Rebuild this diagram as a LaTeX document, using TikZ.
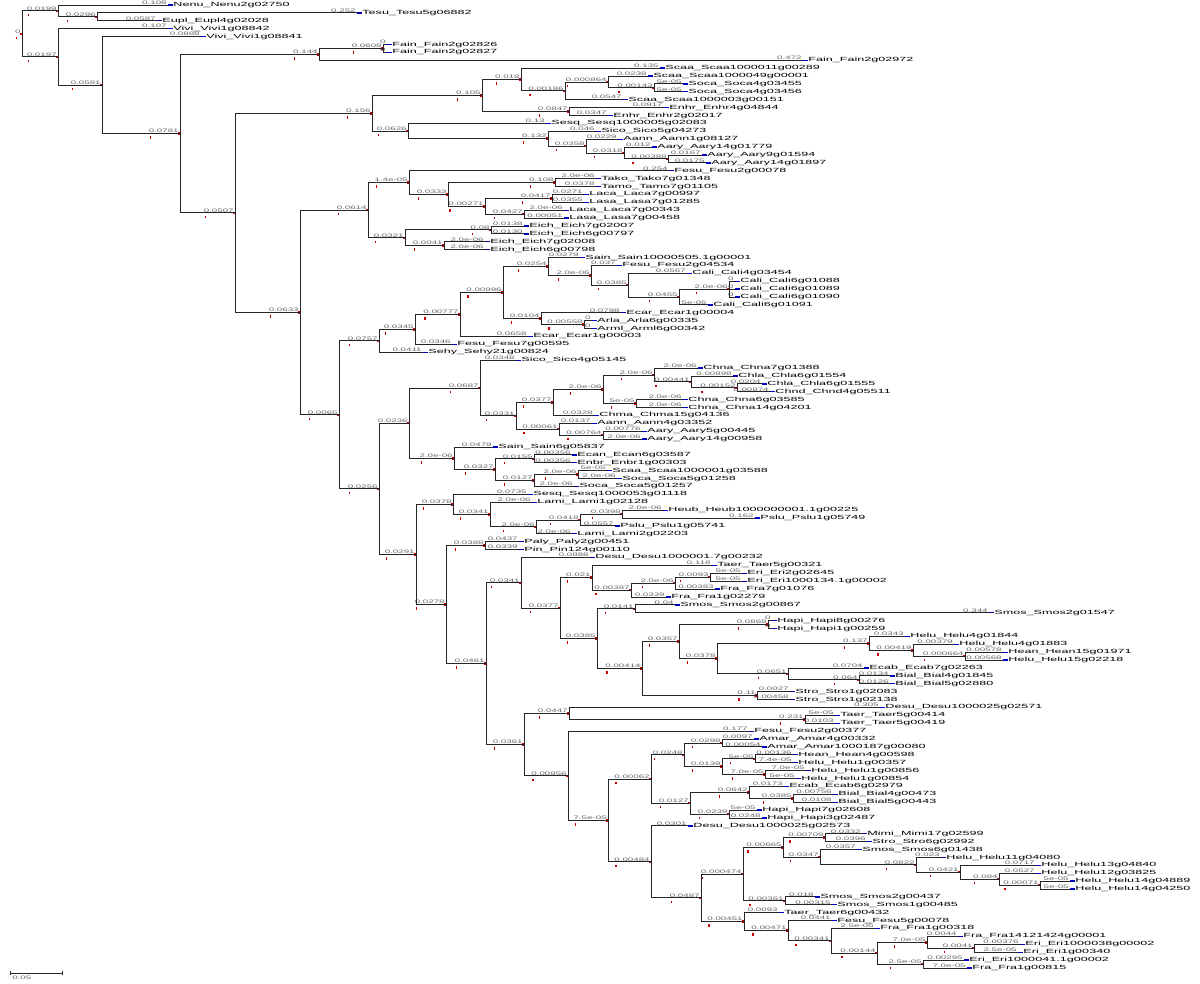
\documentclass[tikz,border=0pt]{standalone}
\usepackage{fontspec}
\newfontfamily\treefont{Liberation Sans}
\usetikzlibrary{calc}

% a tip: name, row, end x, branch length, taxon
\newcommand{\treeleaf}[5]{%
   \coordinate (#1) at (#3,{5+7.893*(#2-1)});
   \node[blen]  (#1-l) at (#1) {#4};
   \node[taxon] (#1-t) at ($(#1)+(5,0)$) {#5};
   \draw[tip] (#1) -- (#1-t.west);}
% an inner node: name, x, first child, last child, branch length
\newcommand{\treeclade}[5]{%
   \path let \p1 = ($(#3)!0.5!(#4)$) in (#2pt,\y1) coordinate (#1);
   \draw[branch] (#1) |- (#3);
   \draw[branch] (#1) |- (#4);
   \node[blen]  (#1-l) at (#1) {#5};
   \node[nmark] (#1-m) at ($(#1)+(-1,0)$) {};
   \node[nmark] (#1-k) at ($(#1-l.south west)+(3,4)$) {};}

\begin{document}
\begin{tikzpicture}[x=1pt, y=-1pt,
      branch/.style = {line width=0.9pt, black!85},
      tip/.style    = {line width=1.3pt, blue!75!black},
      blen/.style   = {font=\treefont\fontsize{5}{5}\selectfont, text=black!60,
                       anchor=south east, inner sep=0.5pt, xscale=1.95},
      taxon/.style  = {font=\treefont\fontsize{6}{6}\selectfont, anchor=west,
                       inner sep=0pt, xscale=2.1},
      nmark/.style  = {fill=red!80!black, inner sep=0pt, minimum width=1.2pt,
                       minimum height=2.5pt}]

   \useasboundingbox (0,0) rectangle (1200,984);

   % tips
   \treeleaf{t1}{1}{168}{0.108}{Nenu\_Nenu2g02750}
   \treeleaf{t2}{2}{357}{0.252}{Tesu\_Tesu5g06882}
   \treeleaf{t3}{3}{157}{0.0587}{Eupl\_Eupl4g02028}
   \treeleaf{t4}{4}{168}{0.107}{Vivi\_Vivi1g08842}
   \treeleaf{t5}{5}{201}{0.0888}{Vivi\_Vivi1g08841}
   \treeleaf{t6}{6}{387}{0}{Fain\_Fain2g02826}
   \treeleaf{t7}{7}{387}{0}{Fain\_Fain2g02827}
   \treeleaf{t8}{8}{803}{0.472}{Fain\_Fain2g02972}
   \treeleaf{t9}{9}{660}{0.135}{Scaa\_Scaa1000011g00289}
   \treeleaf{t10}{10}{648}{0.0238}{Scaa\_Scaa1000049g00001}
   \treeleaf{t11}{11}{683}{5e-05}{Soca\_Soca4g03455}
   \treeleaf{t12}{12}{683}{5e-05}{Soca\_Soca4g03456}
   \treeleaf{t13}{13}{623}{0.0547}{Scaa\_Scaa1000003g00151}
   \treeleaf{t14}{14}{664}{0.0917}{Enhr\_Enhr4g04844}
   \treeleaf{t15}{15}{608}{0.0347}{Enhr\_Enhr2g02017}
   \treeleaf{t16}{16}{546}{0.13}{Sesq\_Sesq1000005g02083}
   \treeleaf{t17}{17}{596}{0.046}{Sico\_Sico5g04273}
   \treeleaf{t18}{18}{618}{0.0229}{Aann\_Aann1g08127}
   \treeleaf{t19}{19}{652}{0.012}{Aary\_Aary14g01779}
   \treeleaf{t20}{20}{702}{0.0167}{Aary\_Aary9g01594}
   \treeleaf{t21}{21}{706}{0.0175}{Aary\_Aary14g01897}
   \treeleaf{t22}{22}{669}{0.254}{Fesu\_Fesu2g00078}
   \treeleaf{t23}{23}{596}{2.0e-06}{Tako\_Tako7g01348}
   \treeleaf{t24}{24}{596}{0.0378}{Tamo\_Tamo7g01105}
   \treeleaf{t25}{25}{584}{0.0271}{Laca\_Laca7g00997}
   \treeleaf{t26}{26}{584}{0.0355}{Lasa\_Lasa7g01285}
   \treeleaf{t27}{27}{564}{2.0e-06}{Laca\_Laca7g00343}
   \treeleaf{t28}{28}{564}{0.00051}{Lasa\_Lasa7g00458}
   \treeleaf{t29}{29}{524}{0.0138}{Eich\_Eich7g02007}
   \treeleaf{t30}{30}{524}{0.0130}{Eich\_Eich6g00797}
   \treeleaf{t31}{31}{485}{2.0e-06}{Eich\_Eich7g02008}
   \treeleaf{t32}{32}{485}{2.0e-06}{Eich\_Eich6g00798}
   \treeleaf{t33}{33}{580}{0.0279}{Sain\_Sain10000505.1g00001}
   \treeleaf{t34}{34}{617}{0.037}{Fesu\_Fesu2g04534}
   \treeleaf{t35}{35}{687}{0.0567}{Cali\_Cali4g03454}
   \treeleaf{t36}{36}{735}{0}{Cali\_Cali6g01088}
   \treeleaf{t37}{37}{735}{0}{Cali\_Cali6g01089}
   \treeleaf{t38}{38}{735}{0}{Cali\_Cali6g01090}
   \treeleaf{t39}{39}{708}{5e-05}{Cali\_Cali6g01091}
   \treeleaf{t40}{40}{621}{0.0798}{Ecar\_Ecar1g00004}
   \treeleaf{t41}{41}{592}{0}{Arla\_Arla6g00335}
   \treeleaf{t42}{42}{592}{0}{Arml\_Arml6g00342}
   \treeleaf{t43}{43}{528}{0.0658}{Ecar\_Ecar1g00003}
   \treeleaf{t44}{44}{452}{0.0346}{Fesu\_Fesu7g00595}
   \treeleaf{t45}{45}{423}{0.0411}{Sehy\_Sehy21g00824}
   \treeleaf{t46}{46}{516}{0.0348}{Sico\_Sico4g05145}
   \treeleaf{t47}{47}{698}{2.0e-06}{Chna\_Chna7g01388}
   \treeleaf{t48}{48}{733}{0.00898}{Chla\_Chla6g01554}
   \treeleaf{t49}{49}{762}{0.0204}{Chla\_Chla6g01555}
   \treeleaf{t50}{50}{770}{0.00874}{Chnd\_Chnd4g05511}
   \treeleaf{t51}{51}{683}{2.0e-06}{Chna\_Chna6g03585}
   \treeleaf{t52}{52}{683}{2.0e-06}{Chna\_Chna14g04201}
   \treeleaf{t53}{53}{594}{0.0328}{Chma\_Chma15g04136}
   \treeleaf{t54}{54}{592}{0.0137}{Aann\_Aann4g03352}
   \treeleaf{t55}{55}{642}{0.00776}{Aary\_Aary5g00445}
   \treeleaf{t56}{56}{642}{2.0e-06}{Aary\_Aary14g00958}
   \treeleaf{t57}{57}{493}{0.0479}{Sain\_Sain6g05837}
   \treeleaf{t58}{58}{572}{0.00356}{Ecan\_Ecan6g03587}
   \treeleaf{t59}{59}{572}{0.00356}{Enbr\_Enbr1g00303}
   \treeleaf{t60}{60}{607}{5e-05}{Scaa\_Scaa1000001g03588}
   \treeleaf{t61}{61}{617}{2.0e-06}{Soca\_Soca5g01258}
   \treeleaf{t62}{62}{574}{2.0e-06}{Soca\_Soca5g01257}
   \treeleaf{t63}{63}{528}{0.0735}{Sesq\_Sesq1000053g01118}
   \treeleaf{t64}{64}{532}{2.0e-06}{Lami\_Lami1g02128}
   \treeleaf{t65}{65}{663}{2.0e-06}{Heub\_Heub1000000001.1g00225}
   \treeleaf{t66}{66}{755}{0.162}{Pslu\_Pslu1g05749}
   \treeleaf{t67}{67}{615}{0.0557}{Pslu\_Pslu1g05741}
   \treeleaf{t68}{68}{572}{2.0e-06}{Lami\_Lami2g02203}
   \treeleaf{t69}{69}{519}{0.0437}{Paly\_Paly2g00451}
   \treeleaf{t70}{70}{519}{0.0339}{Pin\_Pin124g00110}
   \treeleaf{t71}{71}{590}{0.0888}{Desu\_Desu1000001.7g00232}
   \treeleaf{t72}{72}{712}{0.118}{Taer\_Taer5g00321}
   \treeleaf{t73}{73}{742}{5e-05}{Eri\_Eri2g02645}
   \treeleaf{t74}{74}{742}{5e-05}{Eri\_Eri1000134.1g00002}
   \treeleaf{t75}{75}{715}{0.00383}{Fra\_Fra7g01076}
   \treeleaf{t76}{76}{666}{0.0339}{Fra\_Fra1g02279}
   \treeleaf{t77}{77}{675}{0.04}{Smos\_Smos2g00867}
   \treeleaf{t78}{78}{989}{0.344}{Smos\_Smos2g01547}
   \treeleaf{t79}{79}{772}{0}{Hapi\_Hapi8g00276}
   \treeleaf{t80}{80}{772}{0}{Hapi\_Hapi1g00259}
   \treeleaf{t81}{81}{905}{0.0343}{Helu\_Helu4g01844}
   \treeleaf{t82}{82}{954}{0.00379}{Helu\_Helu4g01883}
   \treeleaf{t83}{83}{1003}{0.00578}{Hean\_Hean15g01971}
   \treeleaf{t84}{84}{1003}{0.00568}{Helu\_Helu15g02218}
   \treeleaf{t85}{85}{864}{0.0704}{Ecab\_Ecab7g02263}
   \treeleaf{t86}{86}{890}{0.0134}{Bial\_Bial4g01845}
   \treeleaf{t87}{87}{890}{0.0126}{Bial\_Bial5g02880}
   \treeleaf{t88}{88}{790}{0.0027}{Stro\_Stro1g02083}
   \treeleaf{t89}{89}{790}{0.00458}{Stro\_Stro1g02138}
   \treeleaf{t90}{90}{880}{0.305}{Desu\_Desu1000025g02571}
   \treeleaf{t91}{91}{835}{5e-05}{Taer\_Taer5g00414}
   \treeleaf{t92}{92}{835}{0.0103}{Taer\_Taer5g00419}
   \treeleaf{t93}{93}{749}{0.177}{Fesu\_Fesu2g00377}
   \treeleaf{t94}{94}{754}{0.0097}{Amar\_Amar4g00332}
   \treeleaf{t95}{95}{762}{0.00054}{Amar\_Amar1000187g00080}
   \treeleaf{t96}{96}{793}{0.00136}{Hean\_Hean4g00598}
   \treeleaf{t97}{97}{793}{7.4e-05}{Helu\_Helu1g00357}
   \treeleaf{t98}{98}{806}{7.0e-05}{Helu\_Helu1g00856}
   \treeleaf{t99}{99}{796}{5e-05}{Helu\_Helu1g00854}
   \treeleaf{t100}{100}{784}{0.0173}{Ecab\_Ecab6g02979}
   \treeleaf{t101}{101}{833}{0.00756}{Bial\_Bial4g00473}
   \treeleaf{t102}{102}{833}{0.0108}{Bial\_Bial5g00443}
   \treeleaf{t103}{103}{757}{5e-05}{Hapi\_Hapi7g02608}
   \treeleaf{t104}{104}{762}{0.0248}{Hapi\_Hapi3g02487}
   \treeleaf{t105}{105}{688}{0.0301}{Desu\_Desu1000025g02573}
   \treeleaf{t106}{106}{862}{0.0332}{Mimi\_Mimi17g02599}
   \treeleaf{t107}{107}{867}{0.0396}{Stro\_Stro6g02992}
   \treeleaf{t108}{108}{857}{0.0357}{Smos\_Smos6g01438}
   \treeleaf{t109}{109}{941}{0.023}{Helu\_Helu11g04080}
   \treeleaf{t110}{110}{1036}{0.0717}{Helu\_Helu13g04840}
   \treeleaf{t111}{111}{1036}{0.0527}{Helu\_Helu12g03825}
   \treeleaf{t112}{112}{1070}{5e-05}{Helu\_Helu14g04889}
   \treeleaf{t113}{113}{1070}{5e-05}{Helu\_Helu14g04250}
   \treeleaf{t114}{114}{815}{0.018}{Smos\_Smos2g00437}
   \treeleaf{t115}{115}{832}{0.00315}{Smos\_Smos1g00485}
   \treeleaf{t116}{116}{779}{0.0093}{Taer\_Taer6g00432}
   \treeleaf{t117}{117}{832}{0.0441}{Fesu\_Fesu5g00078}
   \treeleaf{t118}{118}{875}{2.5e-05}{Fra\_Fra1g00318}
   \treeleaf{t119}{119}{958}{0.0044}{Fra\_Fra14121424g00001}
   \treeleaf{t120}{120}{1020}{0.00376}{Eri\_Eri1000038g00002}
   \treeleaf{t121}{121}{1018}{2.5e-05}{Eri\_Eri1g00340}
   \treeleaf{t122}{122}{964}{0.00295}{Eri\_Eri1000041.1g00002}
   \treeleaf{t123}{123}{967}{7.0e-05}{Fra\_Fra1g00815}

   % top clades
   \treeclade{nA2}{97}{t2}{t3}{0.0296}
   \treeclade{nA}{58}{t1}{nA2}{0.0199}
   \treeclade{nG}{383}{t6}{t7}{0.0608}
   \treeclade{nE}{319}{nG}{t8}{0.144}
   \treeclade{nSo}{654}{t11}{t12}{0.00143}
   \treeclade{nSc3}{608}{t10}{nSo}{0.000864}
   \treeclade{nSc2}{565}{nSc3}{t13}{0.00186}
   \treeclade{nSc1}{521}{t9}{nSc2}{0.018}
   \treeclade{nEn}{569}{t14}{t15}{0.0847}
   \treeclade{nI}{482}{nSc1}{nEn}{0.105}
   \treeclade{nAy3}{668}{t20}{t21}{0.00388}
   \treeclade{nAy2}{624}{t19}{nAy3}{0.0318}
   \treeclade{nAy1}{586}{t18}{nAy2}{0.0358}
   \treeclade{nM}{548}{t17}{nAy1}{0.132}
   \treeclade{nK}{408}{t16}{nM}{0.0626}
   \treeclade{nH}{372}{nI}{nK}{0.156}

   % Tako / Laca / Eich
   \treeclade{nY}{555}{t23}{t24}{0.108}
   \treeclade{nAA}{552}{t25}{t26}{0.0417}
   \treeclade{nAB}{524}{t27}{t28}{0.0427}
   \treeclade{nZ}{485}{nAA}{nAB}{0.00271}
   \treeclade{nX}{448}{nY}{nZ}{0.0333}
   \treeclade{nW}{409}{t22}{nX}{1.4e-05}
   \treeclade{nU}{491}{t29}{t30}{0.08}
   \treeclade{nV}{444}{t31}{t32}{0.0041}
   \treeclade{nT}{405}{nU}{nV}{0.0321}
   \treeclade{nQ}{368}{nW}{nT}{0.0614}

   % Cali / Ecar
   \treeclade{nCa3}{729}{t36}{t38}{2.0e-06}
   \draw[branch] (nCa3) |- (t37);
   \treeclade{nCa2}{679}{nCa3}{t39}{0.0455}
   \treeclade{nCa1}{628}{t35}{nCa2}{0.0385}
   \treeclade{nSa2}{591}{t34}{nCa1}{2.0e-06}
   \treeclade{nSa}{548}{t33}{nSa2}{0.0254}
   \treeclade{nAr}{584}{t41}{t42}{0.00558}
   \treeclade{nEc}{541}{t40}{nAr}{0.0104}
   \treeclade{nS1111}{503}{nSa}{nEc}{0.00996}
   \treeclade{nS111}{460}{nS1111}{t43}{0.00777}
   \treeclade{nS11}{415}{nS111}{t44}{0.0345}
   \treeclade{nS1}{379}{nS11}{t45}{0.0757}

   % Chna / Aary / Soca
   \treeclade{nCh5}{737}{t49}{t50}{0.00152}
   \treeclade{nCh4}{691}{t48}{nCh5}{0.00441}
   \treeclade{nCh3}{654}{t47}{nCh4}{2.0e-06}
   \treeclade{nCh6}{636}{t51}{t52}{5e-05}
   \treeclade{nCh2}{603}{nCh3}{nCh6}{2.0e-06}
   \treeclade{nCh1}{553}{nCh2}{t53}{0.0377}
   \treeclade{nAa2}{603}{t55}{t56}{0.00764}
   \treeclade{nAa}{559}{t54}{nAa2}{0.00061}
   \treeclade{nCh}{516}{nCh1}{nAa}{0.0331}
   \treeclade{nR1}{480}{t46}{nCh}{0.0687}
   \treeclade{nEc3}{534}{t58}{t59}{0.0155}
   \treeclade{nSc5}{578}{t60}{t61}{2.0e-06}
   \treeclade{nSc4}{534}{nSc5}{t62}{0.0127}
   \treeclade{nSx}{495}{nEc3}{nSc4}{0.0327}
   \treeclade{nR2}{454}{t57}{nSx}{2.0e-06}
   \treeclade{nR}{409}{nR1}{nR2}{0.0236}

   % Pslu / Paly
   \treeclade{nPs3}{622}{t65}{t66}{0.0398}
   \treeclade{nPs2}{580}{nPs3}{t67}{0.0418}
   \treeclade{nPs1}{536}{nPs2}{t68}{2.0e-06}
   \treeclade{nLa}{490}{t64}{nPs1}{0.0341}
   \treeclade{nSe}{453}{t63}{nLa}{0.0378}
   \treeclade{nPa}{485}{t69}{t70}{0.0388}

   % Taer / Fra / Helu
   \treeclade{nEr}{710}{t73}{t74}{0.0093}
   \treeclade{nFr1}{675}{nEr}{t75}{2.0e-06}
   \treeclade{nFr2}{631}{nFr1}{t76}{0.00387}
   \treeclade{nTa1}{592}{t72}{nFr2}{0.021}
   \treeclade{nSm}{635}{t77}{t78}{0.0141}
   \treeclade{nHa}{768}{t79}{t80}{0.0868}
   \treeclade{nHe3}{965}{t83}{t84}{0.000664}
   \treeclade{nHe2}{913}{t82}{nHe3}{0.00419}
   \treeclade{nHe}{869}{t81}{nHe2}{0.137}
   \treeclade{nBi}{859}{t86}{t87}{0.064}
   \treeclade{nEb}{788}{t85}{nBi}{0.0651}
   \treeclade{nHx}{717}{nHe}{nEb}{0.0378}
   \treeclade{nHq}{679}{nHa}{nHx}{0.0357}
   \treeclade{nSt}{757}{t88}{t89}{0.11}
   \treeclade{nQ12}{642}{nHq}{nSt}{0.00414}
   \treeclade{nQ1}{597}{nSm}{nQ12}{0.0385}
   \treeclade{nP212}{560}{nTa1}{nQ1}{0.0377}
   \treeclade{nP21}{521}{t71}{nP212}{0.0341}
   \treeclade{nTa}{805}{t91}{t92}{0.231}
   \treeclade{nTx}{569}{t90}{nTa}{0.0447}

   % Amar / Bial / Hapi
   \treeclade{nAm11}{722}{t94}{t95}{0.0298}
   \treeclade{nAm121}{755}{t96}{t97}{5e-05}
   \treeclade{nAm122}{765}{t98}{t99}{7.0e-05}
   \treeclade{nAm12}{722}{nAm121}{nAm122}{0.0139}
   \treeclade{nAm1}{684}{nAm11}{nAm12}{0.0248}
   \treeclade{nBi2}{793}{t101}{t102}{0.0385}
   \treeclade{nEc2}{749}{t100}{nBi2}{0.0642}
   \treeclade{nHp}{729}{t103}{t104}{0.0239}
   \treeclade{nAm2}{690}{nEc2}{nHp}{0.0127}
   \treeclade{nAm}{651}{nAm1}{nAm2}{0.00062}

   % Mimi / Helu / Fra
   \treeclade{nMi1}{825}{t106}{t107}{0.00709}
   \treeclade{nHe7}{1040}{t112}{t113}{0.00071}
   \treeclade{nHe6}{999}{t111}{nHe7}{0.084}
   \treeclade{nHe5}{960}{t110}{nHe6}{0.0421}
   \treeclade{nHe4}{916}{t109}{nHe5}{0.0822}
   \treeclade{nMi2}{820}{t108}{nHe4}{0.0347}
   \treeclade{nMi}{783}{nMi1}{nMi2}{0.00665}
   \treeclade{nSm2}{785}{t114}{t115}{0.00361}
   \treeclade{nZ221}{743}{nMi}{nSm2}{0.000474}
   \treeclade{nEr2}{974}{t120}{t121}{0.0041}
   \treeclade{nFx41}{927}{t119}{nEr2}{7.0e-05}
   \treeclade{nFx5}{923}{t122}{t123}{2.5e-05}
   \treeclade{nFx4}{877}{nFx41}{nFx5}{0.00144}
   \treeclade{nFx3}{831}{t118}{nFx4}{0.00341}
   \treeclade{nFx2}{788}{t117}{nFx3}{0.00471}
   \treeclade{nFx}{744}{t116}{nFx2}{0.00451}
   \treeclade{nZ22}{701}{nZ221}{nFx}{0.0487}
   \treeclade{nZ2}{651}{t105}{nZ22}{0.00484}

   % backbone
   \treeclade{nP2222}{608}{nAm}{nZ2}{7.5e-05}
   \treeclade{nP222}{568}{t93}{nP2222}{0.00956}
   \treeclade{nP22}{524}{nTx}{nP222}{0.0361}
   \treeclade{nP2}{486}{nP21}{nP22}{0.0461}
   \treeclade{nS222}{446}{nPa}{nP2}{0.0278}
   \treeclade{nS22}{416}{nSe}{nS222}{0.0291}
   \treeclade{nS2}{379}{nR}{nS22}{0.0256}
   \treeclade{nS}{339}{nS1}{nS2}{0.0065}
   \treeclade{nJ}{300}{nQ}{nS}{0.0633}
   \treeclade{nF}{235}{nH}{nJ}{0.0507}
   \treeclade{nD}{180}{nE}{nF}{0.0781}
   \treeclade{nC}{102}{t5}{nD}{0.0581}
   \treeclade{nB}{58}{t4}{nC}{0.0197}
   \treeclade{nRoot}{22}{nA}{nB}{0}

   % scale bar
   \coordinate (sb0) at (10,973);
   \coordinate (sb1) at (62,973);
   \draw[branch, line width=0.6pt] (sb0) -- (sb1);
   \draw[branch, line width=0.6pt] ($(sb0)+(0,-2)$) -- ($(sb0)+(0,2)$);
   \draw[branch, line width=0.6pt] ($(sb1)+(0,-2)$) -- ($(sb1)+(0,2)$);
   \node[blen, anchor=north west] (sbl) at ($(sb0)+(1,2)$) {0.05};

\end{tikzpicture}
\end{document}
